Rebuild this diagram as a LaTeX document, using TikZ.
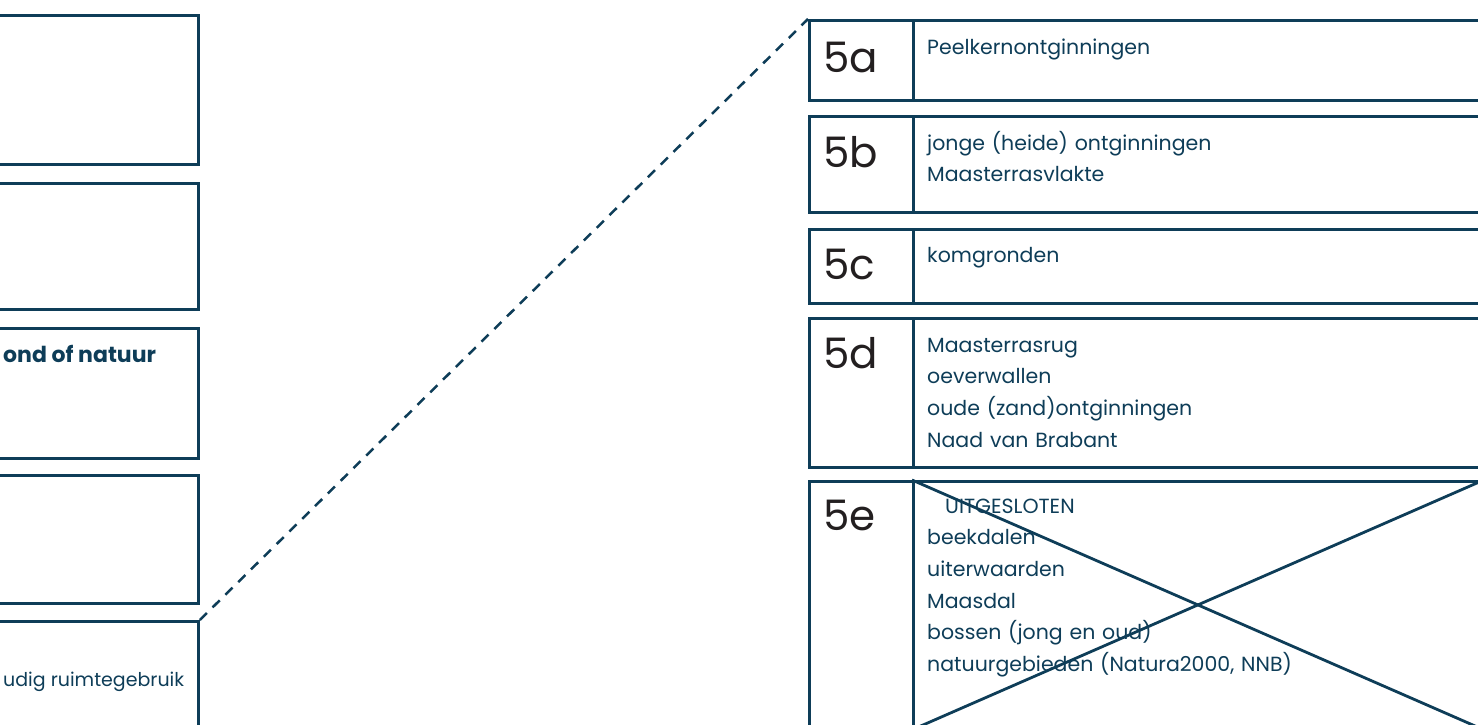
\documentclass[tikz,border=0pt]{standalone}
\usepackage{fontspec}
\setmainfont{Poppins}
\definecolor{navy}{HTML}{0E3D58}
\definecolor{ink}{HTML}{231F20}

\begin{document}
\begin{tikzpicture}[x=1pt,y=-1pt,
  frame/.style={draw=navy, line width=2.8pt, rectangle, inner sep=0pt, anchor=north west},
  code/.style={ink, font=\fontsize{42}{42}\selectfont, inner sep=0pt, anchor=base west},
  item/.style={navy, font=\fontsize{20.5}{31.7}\selectfont, inner sep=0pt, anchor=base west, text width=540pt, align=left},
  side/.style={navy, font=\fontsize{19}{31.7}\selectfont, inner sep=0pt, anchor=base west}]
\useasboundingbox (0,0) rectangle (1478,724);
\clip (0,0) rectangle (1478,724);

% left column, cut off
\node[frame, minimum width=220pt, minimum height=149pt] (a1) at (-23,14) {};
\node[frame, minimum width=220pt, minimum height=126pt] (a2) at (-23,182) {};
\node[frame, minimum width=220pt, minimum height=130pt] (a3) at (-23,327) {};
\node[frame, minimum width=220pt, minimum height=128pt] (a4) at (-23,474) {};
\node[frame, minimum width=220pt, minimum height=140pt] (a5) at (-23,620) {};
\node[side, font=\fontsize{22}{31.7}\selectfont\bfseries] (s3) at (3,362) {ond of natuur};
\node[side] (s5) at (3,686) {udig ruimtegebruik};

% right column
\node[frame, minimum width=104pt, minimum height=80pt] (c5a) at (808,19) {};
\node[frame, minimum width=569pt, minimum height=80pt] (t5a) at (912,19) {};
\node[frame, minimum width=104pt, minimum height=96pt] (c5b) at (808,115) {};
\node[frame, minimum width=569pt, minimum height=96pt] (t5b) at (912,115) {};
\node[frame, minimum width=104pt, minimum height=74pt] (c5c) at (808,228) {};
\node[frame, minimum width=569pt, minimum height=74pt] (t5c) at (912,228) {};
\node[frame, minimum width=104pt, minimum height=149pt] (c5d) at (808,317) {};
\node[frame, minimum width=569pt, minimum height=149pt] (t5d) at (912,317) {};
\node[frame, minimum width=104pt, minimum height=247pt] (c5e) at (808,480) {};
\node[frame, minimum width=569pt, minimum height=247pt] (t5e) at (912,480) {};

\node[code] (l5a) at (823,72) {5a};
\node[code] (l5b) at (823,167) {5b};
\node[code] (l5c) at (823,279) {5c};
\node[code] (l5d) at (823,368) {5d};
\node[code] (l5e) at (823,530) {5e};

\node[item] (i5a) at (927,54) {Peelkernontginningen};
\node[item] (i5b) at (927,150) {jonge (heide) ontginningen\\Maasterrasvlakte};
\node[item] (i5c) at (927,262) {komgronden};
\node[item] (i5d) at (927,352) {Maasterrasrug\\oeverwallen\\oude (zand)ontginningen\\Naad van Brabant};
\node[item] (i5e) at (927,513) {\hspace*{18pt}UITGESLOTEN\\beekdalen\\uiterwaarden\\Maasdal\\bossen (jong en oud)\\natuurgebieden (Natura2000, NNB)};

% crossed out
\path[draw=navy,line width=2.8pt] (t5e.north west) -- (t5e.south east);
\path[draw=navy,line width=2.8pt] (t5e.south west) -- (t5e.north east);

% zoom line
\path[draw=navy,line width=2.5pt,dash pattern=on 10pt off 8pt] (a5.north east) -- (c5a.north west);
\end{tikzpicture}
\end{document}
